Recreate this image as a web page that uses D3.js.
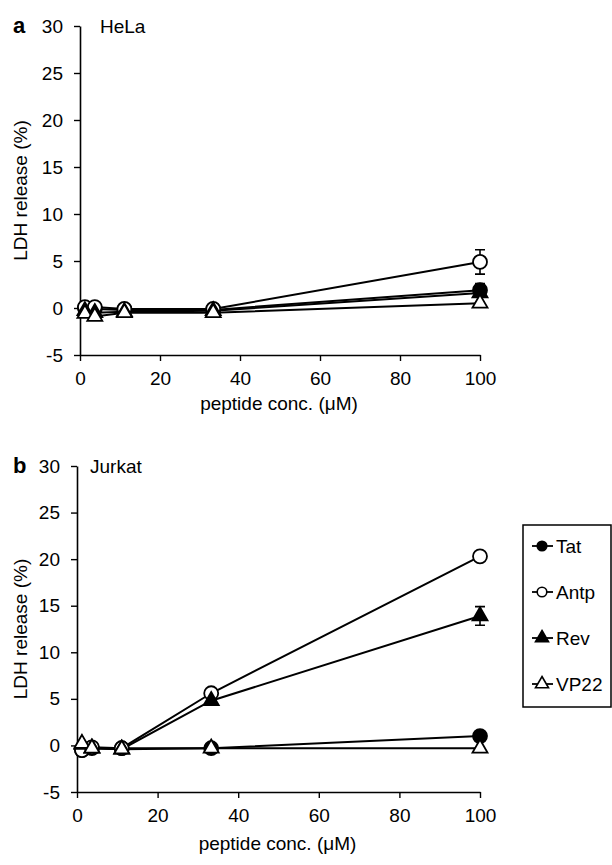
<!DOCTYPE html>
<html>
<head>
<meta charset="utf-8">
<script src="https://cdn.jsdelivr.net/npm/d3@7"></script>
<style>
  body { margin: 0; background: #fff; }
  svg { display: block; }
  text { font-family: "Liberation Sans", Arial, sans-serif; fill: #000; }
</style>
</head>
<body>
<div id="chart"></div>
<script>
// peptide concentrations (uM), same for both panels
var conc = [1.23, 3.7, 11.1, 33.3, 100];
var seriesNames = ["Tat", "Antp", "Rev", "VP22"];
var yTicks = [-5, 0, 5, 10, 15, 20, 25, 30];
var xTicks = [0, 20, 40, 60, 80, 100];

// panel a, HeLa (LDH release %)
var helaTat  = [0.0, -0.1, -0.2, -0.2, 1.9];
var helaAntp = [0.1, 0.1, -0.1, -0.1, 4.9];
var helaRev  = [-0.3, -0.5, -0.4, -0.3, 1.6];
var helaVP22 = [-0.6, -0.9, -0.5, -0.5, 0.5];
var helaAntpErr = [0, 0, 0, 0, 1.3];
var helaRevErr  = [0, 0, 0, 0, 1.0];

// panel b, Jurkat
var jurkatTat  = [-0.5, -0.3, -0.3, -0.3, 1.0];
var jurkatAntp = [-0.5, -0.2, -0.3, 5.6, 20.3];
var jurkatRev  = [0.1, -0.3, -0.4, 4.8, 13.9];
var jurkatVP22 = [0.2, -0.3, -0.4, -0.3, -0.3];
var jurkatRevErr = [0, 0, 0, 0, 1.0];

var W = 612, H = 865;
var FONT = '19px';
var svg = d3.select('#chart').append('svg')
  .attr('width', W)
  .attr('height', H);

var styles = {
  Tat:  { shape: d3.symbolCircle,   fill: '#000' },
  Antp: { shape: d3.symbolCircle,   fill: '#fff' },
  Rev:  { shape: d3.symbolTriangle, fill: '#000' },
  VP22: { shape: d3.symbolTriangle, fill: '#fff' }
};

function markerSize(shape, big) {
  if (shape === d3.symbolCircle) return big ? Math.PI * 7 * 7 : Math.PI * 4.8 * 4.8;
  var w = big ? 15 : 13;
  return Math.sqrt(3) / 4 * w * w;
}

// plain hyphen for negatives, like the original
var fmt = function(d) { return String(d); };

var panels = [
  { letter: 'a', title: 'HeLa', left: 80, right: 480, top: 26, bottom: 355,
    letterY: 33, titleX: 100, xLabelY: 410,
    values: { Tat: helaTat, Antp: helaAntp, Rev: helaRev, VP22: helaVP22 },
    errors: { Antp: helaAntpErr, Rev: helaRevErr } },
  { letter: 'b', title: 'Jurkat', left: 77, right: 480, top: 466, bottom: 792,
    letterY: 473, titleX: 90, xLabelY: 850,
    values: { Tat: jurkatTat, Antp: jurkatAntp, Rev: jurkatRev, VP22: jurkatVP22 },
    errors: { Rev: jurkatRevErr } }
];

panels.forEach(function(p) {
  var x = d3.scaleLinear().domain([0, 100]).range([p.left, p.right]);
  var y = d3.scaleLinear().domain([-5, 30]).range([p.bottom, p.top]);
  var g = svg.append('g');

  // axes
  var yAxis = g.append('g')
    .attr('transform', 'translate(' + p.left + ',0)')
    .call(d3.axisLeft(y).tickValues(yTicks).tickFormat(fmt)
      .tickSize(6).tickSizeOuter(0).tickPadding(11));
  var xAxis = g.append('g')
    .attr('transform', 'translate(0,' + p.bottom + ')')
    .call(d3.axisBottom(x).tickValues(xTicks).tickFormat(fmt)
      .tickSize(6).tickSizeOuter(0).tickPadding(11));
  [yAxis, xAxis].forEach(function(ax) {
    ax.select('.domain').attr('stroke', '#000').attr('stroke-width', 1.6);
    ax.selectAll('.tick line').attr('stroke', '#000').attr('stroke-width', 1.4);
    ax.selectAll('.tick text')
      .style('font-family', '"Liberation Sans", Arial, sans-serif')
      .style('font-size', FONT)
      .attr('fill', '#000');
  });

  // texts
  g.append('text')
    .attr('x', 13).attr('y', p.letterY)
    .style('font-size', '22px').style('font-weight', 'bold')
    .text(p.letter);
  g.append('text')
    .attr('x', p.titleX).attr('y', p.letterY)
    .style('font-size', FONT)
    .text(p.title);
  g.append('text')
    .attr('x', (p.left + p.right) / 2 - 1).attr('y', p.xLabelY)
    .attr('text-anchor', 'middle')
    .style('font-size', FONT)
    .text('peptide conc. (\u03bcM)');
  g.append('text')
    .attr('transform', 'translate(20,' + ((p.top + p.bottom) / 2) + ') rotate(-90)')
    .attr('text-anchor', 'middle')
    .attr('dy', '0.35em')
    .style('font-size', FONT)
    .text('LDH release (%)');

  var line = d3.line()
    .x(function(d, i) { return x(conc[i]); })
    .y(function(d) { return y(d); });

  // lines
  seriesNames.forEach(function(name) {
    g.append('path')
      .datum(p.values[name])
      .attr('d', line)
      .attr('fill', 'none')
      .attr('stroke', '#000')
      .attr('stroke-width', 2);
  });

  // error bars
  seriesNames.forEach(function(name) {
    var err = p.errors[name];
    if (!err) return;
    var vals = p.values[name];
    err.forEach(function(e, i) {
      if (!e) return;
      var cx = x(conc[i]);
      g.append('path')
        .attr('d', 'M' + cx + ',' + y(vals[i] - e) + 'V' + y(vals[i] + e) +
          'M' + (cx - 5) + ',' + y(vals[i] + e) + 'H' + (cx + 5) +
          'M' + (cx - 5) + ',' + y(vals[i] - e) + 'H' + (cx + 5))
        .attr('stroke', '#000')
        .attr('stroke-width', 1.6)
        .attr('fill', 'none');
    });
  });

  // markers
  seriesNames.forEach(function(name) {
    var st = styles[name];
    g.selectAll(null)
      .data(p.values[name])
      .enter().append('path')
      .attr('transform', function(d, i) { return 'translate(' + x(conc[i]) + ',' + y(d) + ')'; })
      .attr('d', d3.symbol().type(st.shape).size(markerSize(st.shape, true)))
      .attr('fill', st.fill)
      .attr('stroke', '#000')
      .attr('stroke-width', 1.8);
  });
});

// legend
var legend = svg.append('g');
legend.append('rect')
  .attr('x', 523).attr('y', 525)
  .attr('width', 88).attr('height', 182)
  .attr('fill', '#fff')
  .attr('stroke', '#000')
  .attr('stroke-width', 1.5);

var ly = d3.scalePoint().domain(seriesNames).range([546, 684]);
seriesNames.forEach(function(name) {
  var st = styles[name];
  var row = legend.append('g').attr('transform', 'translate(0,' + ly(name) + ')');
  row.append('line')
    .attr('x1', 532).attr('x2', 553)
    .attr('stroke', '#000').attr('stroke-width', 1.8);
  row.append('path')
    .attr('transform', 'translate(542,0)')
    .attr('d', d3.symbol().type(st.shape).size(markerSize(st.shape, false)))
    .attr('fill', st.fill)
    .attr('stroke', '#000')
    .attr('stroke-width', 1.6);
  row.append('text')
    .attr('x', 556).attr('dy', '0.35em')
    .style('font-size', FONT)
    .text(name);
});
</script>
</body>
</html>
